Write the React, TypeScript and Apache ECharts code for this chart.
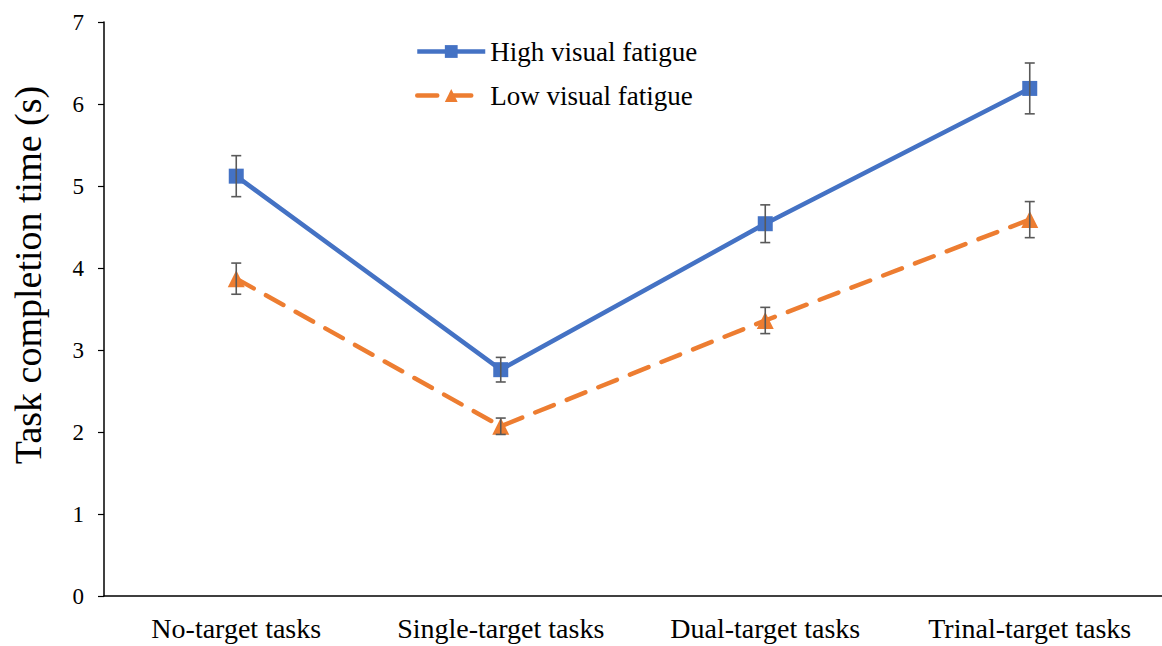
import React, { useEffect, useRef } from "react";
import * as echarts from "echarts";

const categories = ["No-target tasks", "Single-target tasks", "Dual-target tasks", "Trinal-target tasks"];
const highMeans = [5.12, 2.76, 4.54, 6.19];
const highErrors = [0.25, 0.15, 0.23, 0.31];
const lowMeans = [3.87, 2.07, 3.36, 4.59];
const lowErrors = [0.19, 0.1, 0.16, 0.22];
const yTitle = "Task completion time (s)";

const FONT = "Liberation Serif";
const BLUE = "#4472C4";
const ORANGE = "#ED7D31";
const ERR = "#595959";

function errorSeries(name: string, means: number[], errs: number[]) {
  return {
    type: "custom",
    name,
    z: 10,
    silent: true,
    data: means.map((m, i) => [i, m - errs[i], m + errs[i]]),
    renderItem: (params: any, api: any) => {
      const x = api.value(0);
      const lo = api.coord([x, api.value(1)]);
      const hi = api.coord([x, api.value(2)]);
      const half = 5;
      const style = { stroke: ERR, lineWidth: 1.6 };
      return {
        type: "group",
        children: [
          { type: "line", shape: { x1: lo[0], y1: lo[1], x2: hi[0], y2: hi[1] }, style },
          { type: "line", shape: { x1: hi[0] - half, y1: hi[1], x2: hi[0] + half, y2: hi[1] }, style },
          { type: "line", shape: { x1: lo[0] - half, y1: lo[1], x2: lo[0] + half, y2: lo[1] }, style },
        ],
      };
    },
  };
}

export default function App() {
  const ref = useRef<HTMLDivElement>(null);
  useEffect(() => {
    if (!ref.current) return;
    const chart = echarts.init(ref.current, null, { renderer: "svg" });
    chart.setOption({
      animation: false,
      backgroundColor: "#ffffff",
      textStyle: { fontFamily: FONT },
      grid: { left: 104, right: -4, top: 22, bottom: 50 },
      legend: {
        orient: "vertical",
        left: 415,
        top: 38,
        padding: 0,
        itemWidth: 68,
        itemHeight: 16,
        itemGap: 17,
        lineStyle: { width: 4.5 },
        data: ["High visual fatigue", "Low visual fatigue"],
        textStyle: { fontFamily: FONT, fontSize: 27, color: "#000" },
      },
      graphic: [
        {
          type: "text",
          x: 28,
          y: 275,
          rotation: Math.PI / 2,
          style: {
            text: yTitle,
            fontFamily: FONT,
            fontSize: 38,
            fill: "#000",
            align: "center",
            verticalAlign: "middle",
          },
        },
      ],
      xAxis: {
        type: "category",
        data: categories,
        boundaryGap: true,
        axisLine: { lineStyle: { color: "#000", width: 1.5 } },
        axisTick: { alignWithLabel: true, length: 6, lineStyle: { color: "#000", width: 1.2 } },
        axisLabel: { interval: 0, fontFamily: FONT, fontSize: 28, color: "#000", margin: 18 },
        splitLine: { show: false },
      },
      yAxis: {
        type: "value",
        min: 0,
        max: 7,
        interval: 1,
        axisLine: { show: true, lineStyle: { color: "#000", width: 1.5 } },
        axisTick: { show: true, length: 6, lineStyle: { color: "#000", width: 1.2 } },
        axisLabel: { fontFamily: FONT, fontSize: 23, color: "#000", margin: 20 },
        splitLine: { show: false },
      },
      series: [
        {
          name: "High visual fatigue",
          type: "line",
          data: highMeans,
          symbol: "rect",
          symbolSize: 15,
          itemStyle: { color: BLUE },
          lineStyle: { color: BLUE, width: 4.5 },
          z: 3,
        },
        {
          name: "Low visual fatigue",
          type: "line",
          data: lowMeans,
          symbol: "triangle",
          symbolSize: 17,
          itemStyle: { color: ORANGE },
          lineStyle: { color: ORANGE, width: 4.5, type: [20, 14], cap: "round" },
          z: 3,
        },
        errorSeries("high-err", highMeans, highErrors),
        errorSeries("low-err", lowMeans, lowErrors),
      ],
    });
    return () => chart.dispose();
  }, []);
  return (
    <div
      ref={ref}
      style={{ position: "absolute", left: 0, top: 0, width: 1162, height: 646 }}
    />
  );
}
